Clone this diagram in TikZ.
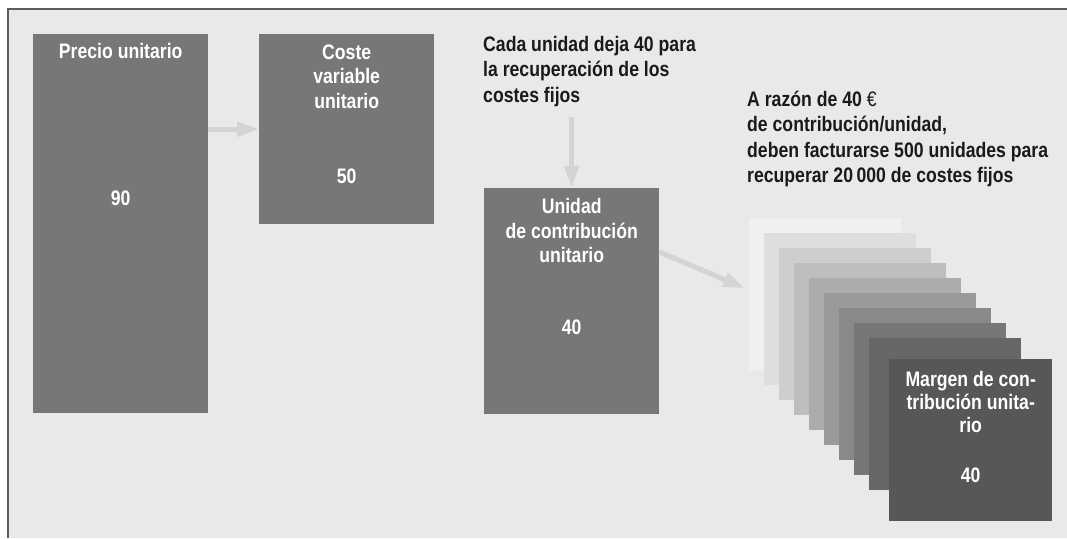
\documentclass[tikz,border=0pt]{standalone}
\usepackage{fontspec}
\setmainfont{Liberation Sans}[FakeStretch=0.84]
\usetikzlibrary{arrows.meta}
\definecolor{chartink}{HTML}{1A1A1A}
\definecolor{chartpanel}{HTML}{E9E9E9}
\definecolor{chartframe}{HTML}{5C5C5C}
\definecolor{chartbox}{HTML}{777777}
\definecolor{chartflow}{HTML}{D4D4D4}
\definecolor{sheet1}{HTML}{F0F0F0}
\definecolor{sheet2}{HTML}{DEDEDE}
\definecolor{sheet3}{HTML}{CECECE}
\definecolor{sheet4}{HTML}{BEBEBE}
\definecolor{sheet5}{HTML}{ACACAC}
\definecolor{sheet6}{HTML}{9A9A9A}
\definecolor{sheet7}{HTML}{898989}
\definecolor{sheet8}{HTML}{777777}
\definecolor{sheet9}{HTML}{676767}
\definecolor{sheet10}{HTML}{575757}

\begin{document}
\begin{tikzpicture}[
  x=1pt,
  y=-1pt,
  every node/.style={font=\fontsize{21}{24.5}\selectfont\bfseries, inner sep=0pt},
  block/.style={fill=chartbox, anchor=north west, minimum width=175pt},
  sheet/.style={anchor=north west, minimum width=152pt, minimum height=152pt},
  flow/.style={chartflow, line width=5pt, -{Triangle[length=22pt, width=14pt]}},
  boxtext/.style={white, align=center, anchor=north},
  value/.style={white},
  note/.style={chartink, align=left, anchor=north west,
    font=\fontsize{21}{25.3}\selectfont\bfseries}
]

  % ---- page and panel --------------------------------------------------
  \useasboundingbox (0,0) rectangle (1067,538);
  \fill[white] (0,0) rectangle (1067,538);
  \fill[chartpanel] (8,9) rectangle (1067,538);
  \draw[chartframe, line width=1.5pt] (8,538) -- (8,9) -- (1067,9);

  % ---- the three unit boxes --------------------------------------------
  \node[block, minimum height=379pt] (price) at (33,34) {};
  \node[block, minimum height=190pt] (varcost) at (259,34) {};
  \node[block, minimum height=226pt] (contrib) at (484,188) {};

  \node[boxtext] (pricetitle) at ([yshift=-9pt]price.north) {Precio unitario};
  \node[value] (pricevalue) at ([yshift=-164pt]price.north) {90};

  \node[boxtext] (varcosttitle) at ([yshift=-10.5pt]varcost.north)
    {Coste\\variable\\unitario};
  \node[value] (varcostvalue) at ([yshift=-142pt]varcost.north) {50};

  \node[boxtext] (contribtitle) at ([yshift=-10.5pt]contrib.north)
    {Unidad\\de contribución\\unitario};
  \node[value] (contribvalue) at ([yshift=-139pt]contrib.north) {40};

  % ---- the two notes ---------------------------------------------------
  \node[note] (perunit) at (483,36)
    {Cada unidad deja 40 para\\la recuperación de los\\costes fijos};
  \node[note] (breakeven) at (747,91)
    {A razón de 40 {\mdseries €}\\de contribución/unidad,\\deben facturarse 500 unidades para\\recuperar 20\,000 de costes fijos};

  % ---- the stack of sheets, lightest at the back -----------------------
  \foreach \i in {1,...,9}
    \node[sheet, fill=sheet\i] (s\i) at ({749+15*(\i-1)},{218+15*(\i-1)}) {};
  \node[sheet, fill=sheet10, minimum width=163pt, minimum height=162pt]
    (margin) at (889,359) {};
  \node[boxtext, font=\fontsize{21}{23}\selectfont\bfseries] (margintitle)
    at ([yshift=-12.5pt]margin.north) {Margen de con-\\tribución unita-\\rio};
  \node[value] (marginvalue) at ([yshift=-116pt]margin.north) {40};

  % ---- arrows ----------------------------------------------------------
  \draw[flow] (varcost.west -| price.east) -- (varcost.west);
  \draw[flow] ([yshift=-10pt]contrib.north |- perunit.south) -- (contrib.north);
  \draw[flow] ([yshift=-64pt]contrib.north east)
    -- ([shift={(-4pt,6pt)}]s1.west);

\end{tikzpicture}
\end{document}
